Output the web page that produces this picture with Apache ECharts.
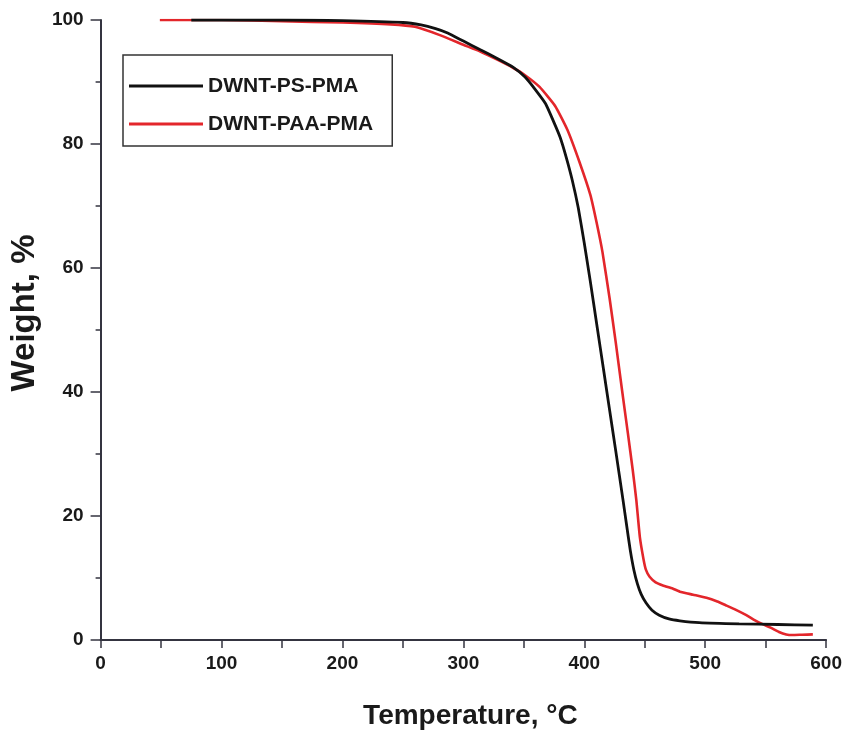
<!DOCTYPE html>
<html>
<head>
<meta charset="utf-8">
<script src="https://cdn.jsdelivr.net/npm/echarts@6/dist/echarts.min.js"></script>
<style>
html,body{margin:0;padding:0;background:#fff;}
#chart{width:845px;height:746px;}
</style>
</head>
<body>
<div id="chart"></div>
<script>
// DWNT-PS-PMA (black)
const tempPS = [75,100,150,200,250,265,277,287,300,314,328,341,351,359,368,374,380,385,390,395,400,405,410,416,421,426,432,435,438,441,444,447,451,456,462,470,479,495,528,560,589];
const weightPS = [100,100,100,99.9,99.6,99.2,98.6,97.9,96.6,95.2,93.8,92.4,90.8,88.9,86.5,83.9,81.1,77.9,74.2,69.7,64,57.8,51.3,43.5,37,30.5,22.6,18.5,14.5,11.3,9,7.4,6,4.8,4,3.4,3.1,2.8,2.6,2.5,2.4];
// DWNT-PAA-PMA (red)
const tempPAA = [49,100,150,200,240,260,280,300,314,328,341,351,363,376,386,396,405,410,415,421,426,431,436,440,443,446,449,451,454,459,465,473,479,490,501,510,517,525,534,540,547,554,561,567,572,580,589];
const weightPAA = [100,100,99.8,99.6,99.3,98.9,97.6,96,94.9,93.6,92.3,91.1,89.2,86.1,82.3,77.1,71.8,67.5,62.6,55,48,40.6,33.4,27.5,22.6,16.5,13,11.3,10.2,9.3,8.8,8.3,7.8,7.3,6.8,6.2,5.6,4.9,4,3.3,2.6,2,1.3,0.9,0.8,0.85,0.9];
const seriesNames = ['DWNT-PS-PMA','DWNT-PAA-PMA'];
const xTicks = [0,100,200,300,400,500,600];
const yTicks = [0,20,40,60,80,100];

const pair = (xs, ys) => xs.map((x, i) => [x, ys[i]]);
const FONT = '"Liberation Sans", Arial, sans-serif';
const AX = '#343440';

const chart = echarts.init(document.getElementById('chart'), null, {renderer: 'canvas'});
chart.setOption({
  animation: false,
  backgroundColor: '#fff',
  grid: {left: 96, right: 17, top: 20, bottom: 106, containLabel: false},
  legend: {
    data: [
      {name: seriesNames[0], icon: 'rect', itemStyle: {color: '#111111'}},
      {name: seriesNames[1], icon: 'rect', itemStyle: {color: '#e3262b'}}
    ],
    orient: 'vertical',
    left: 123, top: 55,
    padding: [19, 19, 10, 6],
    itemGap: 14,
    itemWidth: 74, itemHeight: 3,
    borderColor: '#333', borderWidth: 1.5, borderRadius: 0,
    textStyle: {fontFamily: FONT, fontWeight: 'bold', fontSize: 21, color: '#1a1a1a', lineHeight: 24}
  },
  xAxis: {
    type: 'value', min: xTicks[0], max: xTicks[xTicks.length-1], interval: 100,
    name: 'Temperature, °C', nameLocation: 'middle', nameGap: 62,
    nameTextStyle: {fontFamily: FONT, fontWeight: 'bold', fontSize: 28, color: '#1a1a1a', padding: [0,0,0,14]},
    axisLine: {show: true, lineStyle: {color: AX, width: 2}},
    axisTick: {show: true, inside: false, length: 8, lineStyle: {color: AX, width: 1.5}},
    minorTick: {show: true, splitNumber: 2, length: 8, lineStyle: {color: AX, width: 1.5}},
    axisLabel: {fontFamily: FONT, fontWeight: 'bold', fontSize: 19, color: '#1a1a1a', margin: 14},
    splitLine: {show: false}, minorSplitLine: {show: false}
  },
  yAxis: {
    type: 'value', min: yTicks[0], max: yTicks[yTicks.length-1], interval: 20,
    name: 'Weight, %', nameLocation: 'middle', nameGap: 55, nameRotate: 90,
    nameTextStyle: {fontFamily: FONT, fontWeight: 'bold', fontSize: 33, color: '#1a1a1a', padding: [0,0,0,34]},
    axisLine: {show: true, lineStyle: {color: AX, width: 2}},
    axisTick: {show: true, inside: false, length: 10, lineStyle: {color: AX, width: 1.5}},
    minorTick: {show: true, splitNumber: 2, length: 5, lineStyle: {color: AX, width: 1.5}},
    axisLabel: {fontFamily: FONT, fontWeight: 'bold', fontSize: 19, color: '#1a1a1a', margin: 17},
    splitLine: {show: false}, minorSplitLine: {show: false}
  },
  series: [
    {
      name: seriesNames[1], type: 'line', data: pair(tempPAA, weightPAA),
      symbol: 'none', smooth: 0.15, z: 2,
      lineStyle: {color: '#e3262b', width: 2.6}, itemStyle: {color: '#e3262b'}
    },
    {
      name: seriesNames[0], type: 'line', data: pair(tempPS, weightPS),
      symbol: 'none', smooth: 0.15, z: 3,
      lineStyle: {color: '#111111', width: 2.8}, itemStyle: {color: '#111111'}
    }
  ]
});
</script>
</body>
</html>
